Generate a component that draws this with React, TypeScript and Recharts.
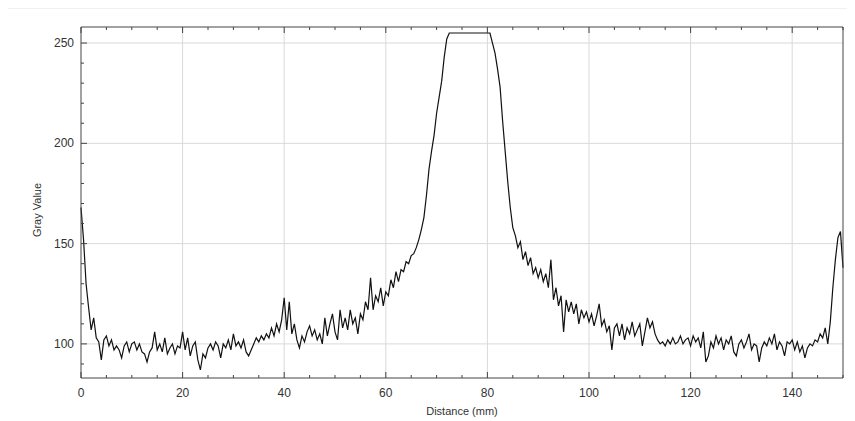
import { Label, Line, LineChart, ReferenceLine, XAxis, YAxis } from 'recharts';

const STEP_MM = 0.5;

const grayValues = [
  168, 152, 130, 118, 107, 113, 103, 101, 92, 102,
  104, 99, 102, 97, 99, 97, 93, 99, 101, 96,
  100, 101, 97, 100, 96, 95, 91, 96, 98, 106,
  97, 100, 96, 103, 95, 98, 100, 95, 99, 98,
  106, 97, 103, 94, 99, 101, 92, 87, 95, 93,
  98, 100, 97, 101, 99, 93, 100, 98, 102, 97,
  105, 99, 101, 98, 102, 96, 94, 97, 100, 103,
  101, 104, 102, 105, 103, 108, 104, 110, 106, 112,
  123, 107, 121, 105, 110, 102, 98, 104, 101, 106,
  109, 104, 107, 102, 105, 100, 113, 104, 110, 115,
  106, 102, 117, 108, 113, 107, 117, 110, 113, 105,
  115, 112, 121, 117, 133, 117, 124, 121, 128, 119,
  126, 124, 132, 128, 136, 131, 137, 136, 141, 140,
  144, 145, 148, 152, 157, 163, 174, 187, 196, 204,
  215, 223, 231, 243, 252, 255, 255, 255, 255, 255,
  255, 255, 255, 255, 255, 255, 255, 255, 255, 255,
  255, 255, 250, 245, 237, 228, 211, 196, 181, 168,
  158, 154, 148, 151, 142, 146, 139, 143, 135, 138,
  133, 137, 131, 135, 128, 142, 122, 128, 119, 124,
  106, 122, 116, 121, 115, 120, 110, 117, 113, 116,
  111, 115, 109, 114, 120, 109, 112, 106, 109, 97,
  108, 110, 104, 110, 102, 108, 105, 111, 104, 107,
  110, 99, 106, 113, 108, 111, 105, 102, 100, 101,
  99, 102, 100, 103, 100, 101, 104, 100, 102, 103,
  99, 104, 101, 103, 98, 106, 91, 94, 101, 98,
  104, 100, 103, 97, 102, 100, 104, 96, 94, 100,
  102, 98, 101, 105, 97, 100, 99, 91, 98, 101,
  99, 103, 100, 105, 97, 101, 99, 94, 101, 100,
  102, 97, 101, 96, 99, 93, 98, 100, 99, 102,
  101, 105, 103, 108, 100, 111, 128, 142, 153, 156,
  138,
];

const xTicks = [0, 5, 10, 15, 20, 25, 30, 35, 40, 45, 50, 55, 60, 65, 70, 75, 80, 85, 90, 95, 100, 105, 110, 115, 120, 125, 130, 135, 140, 145, 150];
const xMajor = [0, 20, 40, 60, 80, 100, 120, 140];
const xGrid = [20, 40, 60, 80, 100, 120, 140];
const yTicks = [90, 100, 110, 120, 130, 140, 150, 160, 170, 180, 190, 200, 210, 220, 230, 240, 250];
const yMajor = [100, 150, 200, 250];

const data = grayValues.map((v, i) => ({ d: i * STEP_MM, v }));

const AXIS = '#444';
const TEXT = '#333';
const GRID = '#d9d9d9';
const FONT = '"Liberation Sans", Arial, sans-serif';

type TickProps = { x: number; y: number; payload: { value: number } };

function BottomTick({ x, y, payload }: TickProps) {
  const major = xMajor.includes(payload.value);
  return (
    <g>
      <line x1={x} x2={x} y1={y} y2={y - (major ? 6 : 3)} stroke={AXIS} strokeWidth={1} />
      {major && (
        <text x={x} y={y + 19} textAnchor="middle" fill={TEXT} fontSize={12} fontFamily={FONT}>
          {payload.value}
        </text>
      )}
    </g>
  );
}

function TopTick({ x, y, payload }: TickProps) {
  const major = xMajor.includes(payload.value);
  return <line x1={x} x2={x} y1={y} y2={y + (major ? 6 : 3)} stroke={AXIS} strokeWidth={1} />;
}

function LeftTick({ x, y, payload }: TickProps) {
  const major = yMajor.includes(payload.value);
  return (
    <g>
      <line x1={x} x2={x + (major ? 6 : 3)} y1={y} y2={y} stroke={AXIS} strokeWidth={1} />
      {major && (
        <text x={x - 7} y={y + 4} textAnchor="end" fill={TEXT} fontSize={12} fontFamily={FONT}>
          {payload.value}
        </text>
      )}
    </g>
  );
}

function RightTick({ x, y, payload }: TickProps) {
  const major = yMajor.includes(payload.value);
  return <line x1={x} x2={x - (major ? 6 : 3)} y1={y} y2={y} stroke={AXIS} strokeWidth={1} />;
}

export default function App() {
  return (
    <div style={{ position: 'absolute', left: 0, top: 0, width: 855, height: 421, background: '#fff' }}>
      <div style={{ position: 'absolute', left: 8, top: 8, width: 839, height: 1, background: '#f0f0f0' }} />
      <LineChart width={855} height={421} data={data} margin={{ top: 0, right: 0, bottom: 0, left: 0 }}>
        <XAxis
          xAxisId="bottom"
          type="number"
          dataKey="d"
          domain={[0, 150]}
          ticks={xTicks}
          interval={0}
          height={43}
          tickSize={0}
          tickMargin={0}
          tick={BottomTick}
          axisLine={{ stroke: AXIS }}
          tickLine={false}
        >
          <Label
            content={() => (
              <text x={462} y={415} textAnchor="middle" fill={TEXT} fontSize={11} fontFamily={FONT}>
                Distance (mm)
              </text>
            )}
          />
        </XAxis>
        <XAxis
          xAxisId="top"
          orientation="top"
          type="number"
          dataKey="d"
          domain={[0, 150]}
          ticks={xTicks}
          interval={0}
          height={27}
          tickSize={0}
          tickMargin={0}
          tick={TopTick}
          axisLine={{ stroke: AXIS }}
          tickLine={false}
        />
        <YAxis
          yAxisId="left"
          type="number"
          domain={[83, 258]}
          ticks={yTicks}
          interval={0}
          width={81}
          tickSize={0}
          tickMargin={0}
          tick={LeftTick}
          axisLine={{ stroke: AXIS }}
          tickLine={false}
        >
          <Label
            content={() => (
              <text
                x={41}
                y={210}
                transform="rotate(-90 41 210)"
                textAnchor="middle"
                fill={TEXT}
                fontSize={11}
                fontFamily={FONT}
              >
                Gray Value
              </text>
            )}
          />
        </YAxis>
        <YAxis
          yAxisId="right"
          orientation="right"
          type="number"
          domain={[83, 258]}
          ticks={yTicks}
          interval={0}
          width={12}
          tickSize={0}
          tickMargin={0}
          tick={RightTick}
          axisLine={{ stroke: AXIS }}
          tickLine={false}
        />
        {xGrid.map((g) => (
          <ReferenceLine key={`x${g}`} x={g} xAxisId="bottom" yAxisId="left" stroke={GRID} />
        ))}
        {yMajor.map((g) => (
          <ReferenceLine key={`y${g}`} y={g} xAxisId="bottom" yAxisId="left" stroke={GRID} />
        ))}
        <Line
          xAxisId="bottom"
          yAxisId="left"
          type="linear"
          dataKey="v"
          stroke="#111"
          strokeWidth={1.2}
          dot={false}
          isAnimationActive={false}
        />
      </LineChart>
    </div>
  );
}
